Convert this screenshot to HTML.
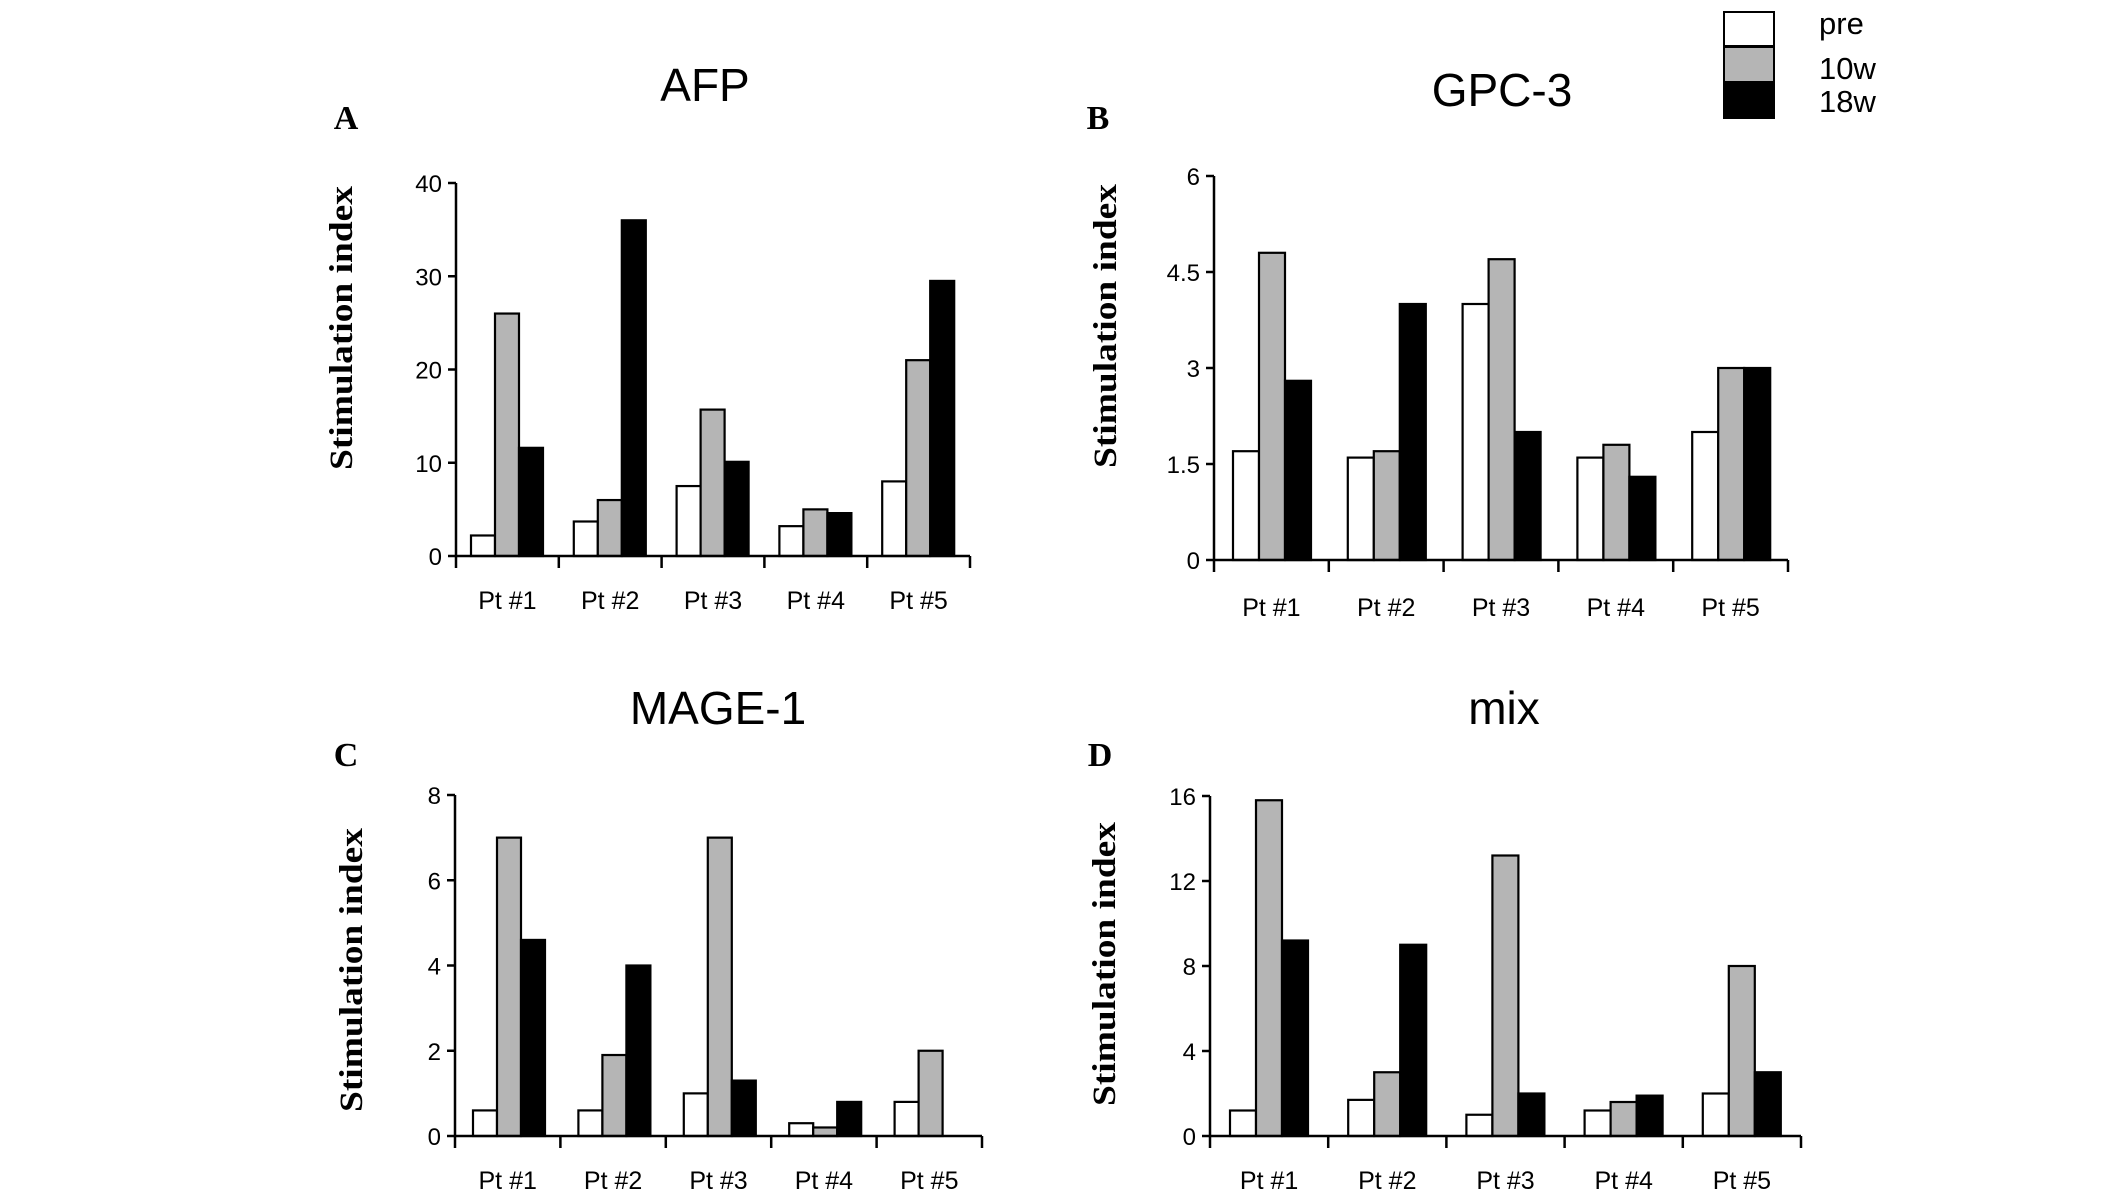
<!DOCTYPE html>
<html><head><meta charset="utf-8"><style>
html,body{margin:0;padding:0;background:#fff;}
svg{display:block;}
.tick{font-family:"Liberation Sans",sans-serif;font-size:24px;fill:#000;}
.cat{font-family:"Liberation Sans",sans-serif;font-size:25px;fill:#000;}
.title{font-family:"Liberation Sans",sans-serif;font-size:46px;fill:#000;}
.plabel{font-family:"Liberation Serif",serif;font-size:34px;font-weight:bold;fill:#000;}
.ylab{font-family:"Liberation Serif",serif;font-size:33px;font-weight:bold;fill:#000;}
.leg{font-family:"Liberation Sans",sans-serif;font-size:31px;fill:#000;}
</style></head><body>
<svg id="fig" width="2126" height="1201" viewBox="0 0 2126 1201" xmlns="http://www.w3.org/2000/svg">
<g>
<rect x="1724" y="12" width="50" height="34" fill="#fff" stroke="#000" stroke-width="2"/>
<rect x="1724" y="47" width="50" height="35" fill="#b5b5b5" stroke="#000" stroke-width="2"/>
<rect x="1724" y="82" width="50" height="36" fill="#000" stroke="#000" stroke-width="2"/>
<text class="leg" x="1819" y="34">pre</text>
<text class="leg" x="1819" y="79">10w</text>
<text class="leg" x="1819" y="112">18w</text>
</g>
</svg>
<script>
const categories = ["Pt#1","Pt#2","Pt#3","Pt#4","Pt#5"];
const afpPre = [2.2,3.7,7.5,3.2,8];
const afp10w = [26,6,15.7,5,21];
const afp18w = [11.6,36,10.1,4.6,29.5];
const afpTicks = [0,10,20,30,40];
const gpcPre = [1.7,1.6,4.0,1.6,2.0];
const gpc10w = [4.8,1.7,4.7,1.8,3.0];
const gpc18w = [2.8,4.0,2.0,1.3,3.0];
const gpcTicks = ["0","1.5","3","4.5","6"];
const magePre = [0.6,0.6,1.0,0.3,0.8];
const mage10w = [7.0,1.9,7.0,0.2,2.0];
const mage18w = [4.6,4.0,1.3,0.8,0];
const mageTicks = [0,2,4,6,8];
const mixPre = [1.2,1.7,1.0,1.2,2.0];
const mix10w = [15.8,3.0,13.2,1.6,8.0];
const mix18w = [9.2,9.0,2.0,1.9,3.0];
const mixTicks = [0,4,8,12,16];

const NS = "http://www.w3.org/2000/svg";
const svg = document.getElementById("fig");
function mk(tag, attrs, parent, txt){
  const e = document.createElementNS(NS, tag);
  for (const k in attrs) e.setAttribute(k, attrs[k]);
  if (txt !== undefined) e.textContent = txt;
  parent.appendChild(e);
  return e;
}
function panel(o){
  const g = mk("g", {}, svg);
  
  
  const ticks = o.ticks.map(Number);
  const ymax = ticks[ticks.length-1];
  const yS = v => o.y0 - (v / ymax) * (o.y0 - o.yTop);
  const gw = (o.x1 - o.x0) / categories.length;
  const xS = (i, s) => o.x0 + i * gw + o.off + s * o.bw;
  const series = [o.pre, o.w10, o.w18];
  const fills = ["#fff", "#b5b5b5", "#000"];
  const names = ["pre", "10w", "18w"];
  series.forEach((arr, s) => {
    arr.forEach((v, i) => {
      if (v <= 0) return;
      const r = mk("rect", {x: xS(i, s), y: yS(v), width: o.bw, height: o.y0 - yS(v), fill: fills[s], stroke: "#000", "stroke-width": 2.2}, g);
      
      
    });
  });
  const ax = mk("path", {d: `M${o.x0},${o.yTop} V${o.y0} H${o.x1}`, fill: "none", stroke: "#000", "stroke-width": 2.5}, g);
  
  
  o.ticks.forEach(t => {
    const y = yS(Number(t));
    mk("line", {x1: o.x0 - 8, x2: o.x0, y1: y, y2: y, stroke: "#000", "stroke-width": 2.5}, g);
    const tl = mk("text", {class: "tick", x: o.x0 - 14, y: y + 9, "text-anchor": "end"}, g, String(t));
    
    
  });
  for (let i = 0; i <= categories.length; i++) {
    const x = o.x0 + i * gw;
    mk("line", {x1: x, x2: x, y1: o.y0, y2: o.y0 + 12, stroke: "#000", "stroke-width": 2.5}, g);
  }
  categories.forEach((c, i) => {
    const t = mk("text", {class: "cat", x: o.x0 + (i + 0.5) * gw, y: o.catY, "text-anchor": "middle"}, g, c.replace("#", " #"));
    
    
  });
  const ti = mk("text", {class: "title", x: o.titleX, y: o.titleY, "text-anchor": "middle"}, g, o.title);
  
  
  const pl = mk("text", {class: "plabel", x: o.labX, y: o.labY, "text-anchor": "middle"}, g, o.letter);
  
  
  const yl = mk("text", {class: "ylab", x: 0, y: 0, "text-anchor": "middle", transform: `translate(${o.ylX},${o.ylY}) rotate(-90)`, textLength: 284, lengthAdjust: "spacingAndGlyphs"}, g, "Stimulation index");
  
  
}
panel({key:"afp", title:"AFP", letter:"A", pre:afpPre, w10:afp10w, w18:afp18w, ticks:afpTicks,
  x0:456, x1:970, yTop:183, y0:556, bw:24, off:15, catY:609, titleX:705, titleY:101, labX:346, labY:129, ylX:352, ylY:328});
panel({key:"gpc3", title:"GPC-3", letter:"B", pre:gpcPre, w10:gpc10w, w18:gpc18w, ticks:gpcTicks,
  x0:1214, x1:1788, yTop:176, y0:560, bw:26, off:19, catY:616, titleX:1502, titleY:106, labX:1098, labY:129, ylX:1116, ylY:326});
panel({key:"mage1", title:"MAGE-1", letter:"C", pre:magePre, w10:mage10w, w18:mage18w, ticks:mageTicks,
  x0:455, x1:982, yTop:795, y0:1136, bw:24, off:18, catY:1189, titleX:718, titleY:724, labX:346, labY:766, ylX:362, ylY:970});
panel({key:"mix", title:"mix", letter:"D", pre:mixPre, w10:mix10w, w18:mix18w, ticks:mixTicks,
  x0:1210, x1:1801, yTop:796, y0:1136, bw:26, off:20, catY:1189, titleX:1504, titleY:724, labX:1100, labY:766, ylX:1115, ylY:964});
</script>
</body></html>
